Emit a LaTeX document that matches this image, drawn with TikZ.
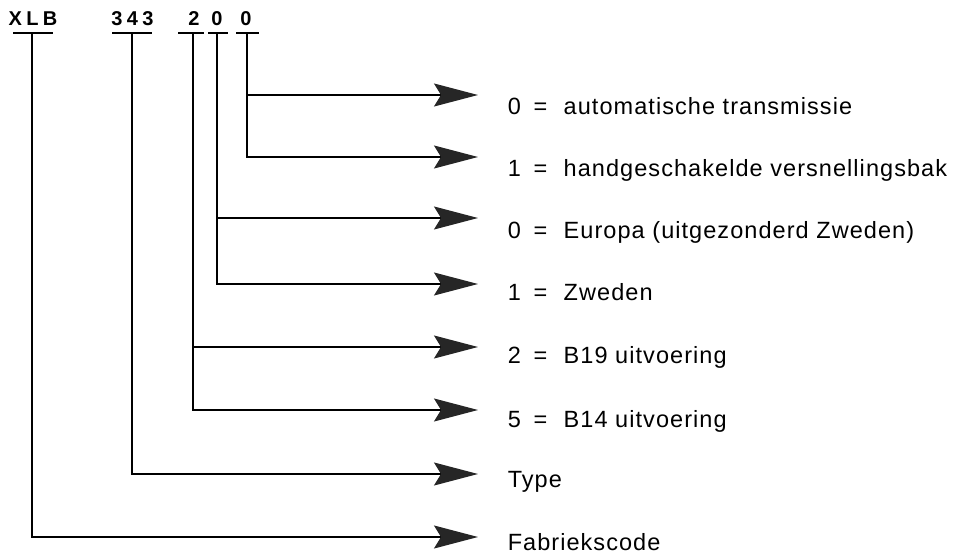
\documentclass[tikz,border=0pt]{standalone}
\usepackage{fontspec}
\setmainfont{Liberation Sans}
\newfontfamily\labfont[LetterSpace=4.5]{Liberation Sans}
\newfontfamily\codefont[LetterSpace=22]{Liberation Sans}
\usetikzlibrary{arrows.meta}
\newcommand{\eqlab}[2]{\makebox[26pt][l]{#1}\makebox[30pt][l]{=}#2}
\begin{document}
\begin{tikzpicture}[x=1pt,y=-1pt,
  line width=1.5pt,
  lab/.style={anchor=base west,inner sep=0pt,font=\labfont\fontsize{23.5}{28}\selectfont},
  code/.style={anchor=base,inner sep=0pt,font=\codefont\bfseries\fontsize{20}{24}\selectfont},
  bar/.style={line width=1.6pt},
  arr/.style={-{Stealth[length=44pt,width=23pt,inset=7pt,fill=black!85,color=black!85]}}]
\useasboundingbox (0,0) rectangle (958,556);
% top codes
\node[code] (xlb) at (33,26) {XLB};
\node[code] (n343) at (132.5,26) {343};
\node[code] (d2) at (194,26) {2};
\node[code] (d0a) at (217,26) {0};
\node[code] (d0b) at (246,26) {0};
% bars
\draw[bar] (13,33) -- (53,33);
\draw[bar] (112,33) -- (152,33);
\draw[bar] (178,33) -- (204,33);
\draw[bar] (208,33) -- (228,33);
\draw[bar] (236,33) -- (259,33);
\coordinate (cxlb) at (32,33);
\coordinate (c343) at (132,33);
\coordinate (c2) at (193,33);
\coordinate (c0a) at (217,33);
\coordinate (c0b) at (247,33);
% arrow tips
\coordinate (t1) at (478,95);
\coordinate (t2) at (478,157);
\coordinate (t3) at (478,218);
\coordinate (t4) at (478,284);
\coordinate (t5) at (478,347);
\coordinate (t6) at (478,410);
\coordinate (t7) at (478,474);
\coordinate (t8) at (478,537);
% connectors
\draw[arr] (c0b) |- (t1);
\draw[arr] (c0b) |- (t2);
\draw[arr] (c0a) |- (t3);
\draw[arr] (c0a) |- (t4);
\draw[arr] (c2) |- (t5);
\draw[arr] (c2) |- (t6);
\draw[arr] (c343) |- (t7);
\draw[arr] (cxlb) |- (t8);
% labels
\node[lab] (l1) at (507,115) {\eqlab{0}{automatische transmissie}};
\node[lab] (l2) at (507,177) {\eqlab{1}{handgeschakelde versnellingsbak}};
\node[lab] (l3) at (507,238) {\eqlab{0}{Europa (uitgezonderd Zweden)}};
\node[lab] (l4) at (507,300) {\eqlab{1}{Zweden}};
\node[lab] (l5) at (507,363) {\eqlab{2}{B19 uitvoering}};
\node[lab] (l6) at (507,427) {\eqlab{5}{B14 uitvoering}};
\node[lab] (l7) at (507,487) {Type};
\node[lab] (l8) at (507,550) {Fabriekscode};
\end{tikzpicture}
\end{document}
